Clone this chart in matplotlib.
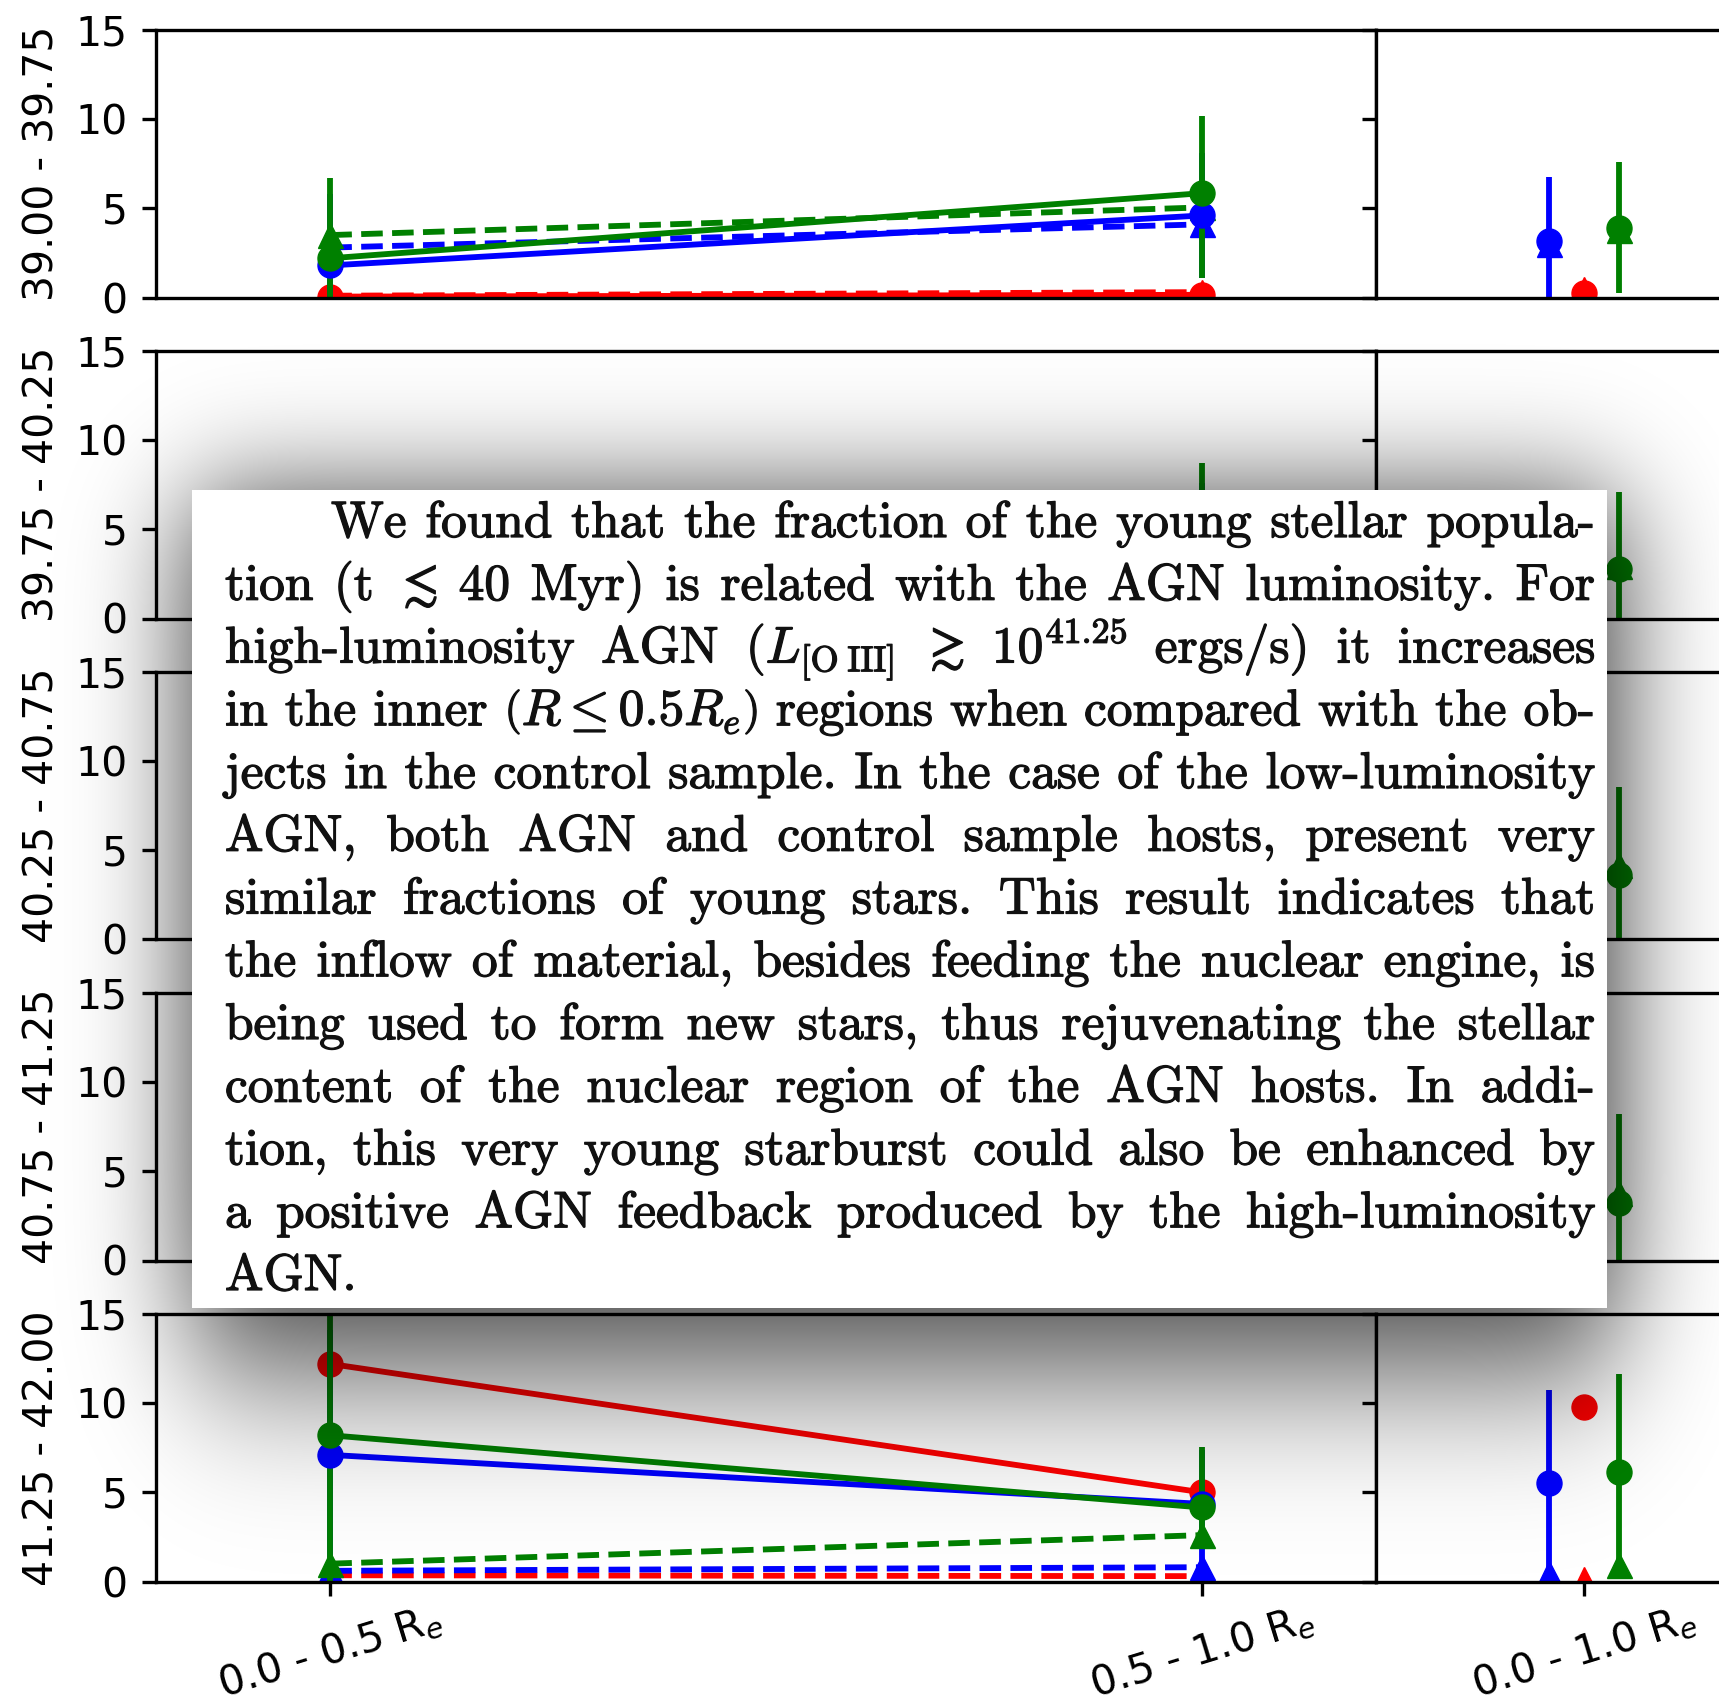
import math
import numpy as np
import matplotlib
matplotlib.use("Agg")
import matplotlib.pyplot as plt
from matplotlib.patches import Rectangle
import matplotlib.patheffects as pe

W, H, DPI = 1719, 1703, 100

# ---------------- data ----------------
row_labels = ["39.00 - 39.75", "39.75 - 40.25", "40.25 - 40.75",
              "40.75 - 41.25", "41.25 - 42.00"]
region_ticklabels = ["0.0 - 0.5 R$_e$", "0.5 - 1.0 R$_e$"]
total_ticklabels = ["0.0 - 1.0 R$_e$"]
x_regions = [0, 1]
x_total = [0]

# AGN hosts (solid lines, circles): [0.0-0.5 Re, 0.5-1.0 Re] per luminosity bin
agn_red = [[0.05, 0.15], [0.4, 0.6], [0.8, 1.0], [1.2, 0.9], [12.2, 5.0]]
agn_blue = [[1.8, 4.6], [2.0, 3.6], [1.6, 3.0], [1.5, 2.6], [7.1, 4.35]]
agn_green = [[2.2, 5.85], [2.6, 4.2], [2.4, 3.6], [2.2, 3.4], [8.2, 4.15]]
agn_blue_lo = [[1.8, 3.5], [2.0, 3.0], [1.6, 2.8], [1.5, 2.5], [7.0, 3.95]]
agn_blue_hi = [[4.0, 3.5], [3.8, 4.0], [4.5, 4.0], [4.5, 4.0], [7.0, 3.0]]
agn_green_lo = [[2.2, 4.75], [2.6, 4.2], [2.4, 3.6], [2.2, 3.4], [8.2, 1.85]]
agn_green_hi = [[4.5, 4.35], [4.4, 4.5], [4.6, 4.8], [4.8, 4.9], [7.5, 3.4]]

# control sample (dashed lines, triangles)
ctl_red = [[0.1, 0.3], [0.3, 0.5], [0.5, 0.7], [0.6, 0.8], [0.35, 0.3]]
ctl_blue = [[2.8, 4.1], [2.4, 3.2], [2.2, 2.9], [2.0, 2.6], [0.6, 0.8]]
ctl_green = [[3.5, 5.05], [3.0, 3.9], [2.8, 3.5], [2.6, 3.2], [1.0, 2.6]]

# whole galaxy (0.0 - 1.0 Re)
tot_agn_red = [0.25, 0.5, 0.9, 1.1, 9.8]
tot_agn_blue = [3.15, 2.8, 2.6, 2.4, 5.5]
tot_agn_green = [3.9, 2.75, 3.6, 3.25, 6.15]
tot_blue_lo = [3.15, 2.8, 2.6, 2.4, 5.5]
tot_blue_hi = [3.6, 3.5, 3.5, 3.5, 5.25]
tot_green_lo = [3.65, 2.75, 3.6, 3.25, 5.45]
tot_green_hi = [3.7, 4.35, 4.95, 4.95, 5.5]
tot_ctl_red = [0.45, 0.5, 0.8, 0.8, 0.15]
tot_ctl_blue = [3.0, 2.5, 2.4, 2.2, 0.5]
tot_ctl_green = [3.8, 2.95, 4.2, 3.8, 0.95]
tot_offsets = [-0.084, 0.0, 0.084]   # blue, red, green

text_lines = [
    "We found that the fraction of the young stellar popula-",
    r"tion (t $\lesssim$ 40 Myr) is related with the AGN luminosity. For",
    r"high-luminosity AGN $(L_{[\mathrm{O\;III}]}$ $\gtrsim$ $10^{41.25}$ ergs/s) it increases",
    r"in the inner $\left(R\leq0.5R_e\right)$ regions when compared with the ob-",
    "jects in the control sample. In the case of the low-luminosity",
    "AGN, both AGN and control sample hosts, present very",
    "similar fractions of young stars. This result indicates that",
    "the inflow of material, besides feeding the nuclear engine, is",
    "being used to form new stars, thus rejuvenating the stellar",
    "content of the nuclear region of the AGN hosts. In addi-",
    "tion, this very young starburst could also be enhanced by",
    "a positive AGN feedback produced by the high-luminosity",
    "AGN.",
]

# ---------------- style ----------------
FS = 29.5
LW = 4.2
MS = 18
SPW = 2.4
plt.rcParams["font.family"] = ["DejaVu Sans"]

fig = plt.figure(figsize=(W / DPI, H / DPI), dpi=DPI)

ROW_TOP0, ROW_PITCH, ROW_H = 30, 321, 267.5
LX0, LX1, RX1 = 156, 1376, 1792


def style_axes(ax):
    for s in ax.spines.values():
        s.set_linewidth(SPW)
    ax.tick_params(axis="both", direction="out", length=10.3, width=SPW,
                   pad=10.3, labelsize=FS)
    ax.tick_params(axis="x", pad=2.0)
    ax.set_ylim(0, 15)
    ax.set_yticks([0, 5, 10, 15])


for i in range(5):
    top = ROW_TOP0 + i * ROW_PITCH
    bot = top + ROW_H
    axl = fig.add_axes([LX0 / W, 1 - bot / H, (LX1 - LX0) / W, ROW_H / H])
    axr = fig.add_axes([LX1 / W, 1 - bot / H, (RX1 - LX1) / W, ROW_H / H])
    for ax in (axl, axr):
        style_axes(ax)
    axl.set_xlim(-0.2, 1.2)
    axr.set_xlim(-0.5, 0.5)
    axr.tick_params(labelleft=False)

    # left: radial regions
    axl.plot(x_regions, ctl_red[i], "--^", color="red", lw=LW, ms=MS)
    axl.plot(x_regions, agn_red[i], "-o", color="red", lw=LW, ms=MS)
    axl.plot(x_regions, ctl_blue[i], "--^", color="blue", lw=LW, ms=MS)
    axl.errorbar(x_regions, agn_blue[i], yerr=[agn_blue_lo[i], agn_blue_hi[i]],
                 fmt="-o", color="blue", lw=LW, ms=MS, elinewidth=LW, capsize=0)
    axl.plot(x_regions, ctl_green[i], "--^", color="green", lw=LW, ms=MS)
    axl.errorbar(x_regions, agn_green[i], yerr=[agn_green_lo[i], agn_green_hi[i]],
                 fmt="-o", color="green", lw=LW, ms=MS, elinewidth=LW, capsize=0)

    # right: whole galaxy
    xb = x_total[0] + tot_offsets[0]
    xr_ = x_total[0] + tot_offsets[1]
    xg = x_total[0] + tot_offsets[2]
    axr.plot([xb], [tot_ctl_blue[i]], "^", color="blue", ms=MS)
    axr.errorbar([xb], [tot_agn_blue[i]], yerr=[[tot_blue_lo[i]], [tot_blue_hi[i]]],
                 fmt="o", color="blue", ms=MS, elinewidth=LW, capsize=0)
    axr.plot([xr_], [tot_ctl_red[i]], "^", color="red", ms=MS)
    axr.plot([xr_], [tot_agn_red[i]], "o", color="red", ms=MS)
    axr.plot([xg], [tot_ctl_green[i]], "^", color="green", ms=MS)
    axr.errorbar([xg], [tot_agn_green[i]], yerr=[[tot_green_lo[i]], [tot_green_hi[i]]],
                 fmt="o", color="green", ms=MS, elinewidth=LW, capsize=0)

    axl.set_ylabel(row_labels[i], fontsize=FS)
    axl.yaxis.set_label_coords((63 - LX0) / (LX1 - LX0), 0.5)

    if i == 4:
        axl.set_xticks(x_regions)
        axl.set_xticklabels(region_ticklabels, rotation=17, fontsize=FS)
        axr.set_xticks(x_total)
        axr.set_xticklabels(total_ticklabels, rotation=17, fontsize=FS)
    else:
        axl.set_xticks([])
        axr.set_xticks([])

# ---------------- overlay: shadow + text box ----------------
ov = fig.add_axes([0, 0, 1, 1], zorder=10)
ov.set_axis_off()
ov.patch.set_visible(False)

verf = np.vectorize(math.erf)


def sig(u):
    return 0.5 * (1.0 + verf(u / math.sqrt(2.0)))


BOX = (192, 490, 1607, 1308)  # x0, y0, x1, y1 (pixels, from top)
xx = np.arange(W) + 0.5
yy = np.arange(H) + 0.5
gx = sig((xx - 192) / 55.0) * (1 - sig((xx - 1617) / 55.0))
gy = sig((yy - 499) / 60.0) * (1 - sig((yy - 1358) / 84.0))
alpha = 0.8 * np.outer(gy, gx)
rgba = np.zeros((H, W, 4))
rgba[..., 3] = alpha
ov.imshow(rgba, extent=(0, W, H, 0), aspect="auto", interpolation="bilinear")
ov.add_patch(Rectangle((BOX[0], BOX[1]), BOX[2] - BOX[0], BOX[3] - BOX[1],
                       facecolor="white", edgecolor="none", zorder=2))
ov.set_xlim(0, W)
ov.set_ylim(H, 0)

TXT_L, TXT_R, INDENT = 225, 1595, 106
BASE0, LEAD = 537, 62.75

fig.canvas.draw()
renderer = fig.canvas.get_renderer()


def measure(word, fs):
    t = ov.text(0, 0, word, fontsize=fs, family="cmr10", math_fontfamily="cm")
    w = t.get_window_extent(renderer=renderer).width
    t.remove()
    return w


tfs = 37.0
for _ in range(6):
    layouts = []
    min_gap = 1e9
    for k, line in enumerate(text_lines):
        words = line.split(" ")
        widths = [measure(w, tfs) for w in words]
        x0 = TXT_L + (INDENT if k == 0 else 0)
        if k == len(text_lines) - 1 or len(words) < 2:
            gap = 0.333 * tfs * DPI / 72
        else:
            gap = (TXT_R - x0 - sum(widths)) / (len(words) - 1)
            min_gap = min(min_gap, gap)
        layouts.append((words, widths, x0, gap))
    if min_gap >= 0.22 * tfs * DPI / 72:
        break
    tfs *= 0.97

stroke = [pe.withStroke(linewidth=0.9, foreground="#111111")]
for k, (words, widths, x0, gap) in enumerate(layouts):
    x = x0
    y = BASE0 + k * LEAD
    for w, wd in zip(words, widths):
        ov.text(x, y, w, fontsize=tfs, family="cmr10", math_fontfamily="cm",
                color="#111111", ha="left", va="baseline", zorder=3,
                path_effects=stroke)
        x += wd + gap

fig.savefig("out.png", dpi=DPI)
